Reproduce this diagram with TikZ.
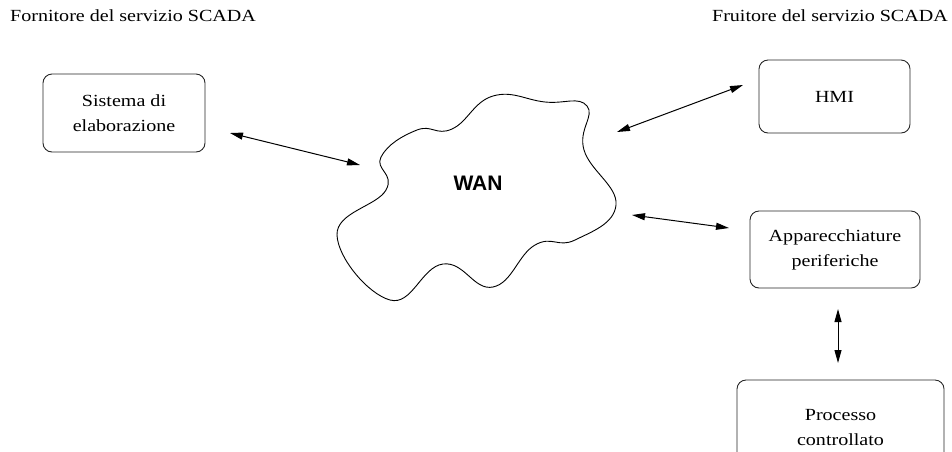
\documentclass[tikz,border=0pt]{standalone}
\usepackage{fontspec}
\setmainfont[FakeStretch=1.18]{Liberation Serif}
\newfontfamily\wanfont{Liberation Sans}
\usetikzlibrary{arrows.meta}
\begin{document}
\begin{tikzpicture}[x=1pt,y=-1pt,
  every node/.style={font=\fontsize{17}{25}\selectfont},
  boxnode/.style={draw=black!85, line width=0.9pt, rounded corners=9pt, align=center, inner sep=0pt},
  conn/.style={line width=1pt, {Triangle[length=13pt,width=7pt]}-{Triangle[length=13pt,width=7pt]}},
  hdr/.style={inner sep=0pt}
]
\useasboundingbox (0,0) rectangle (952,451);
\clip (0,0) rectangle (952,451);

\node[hdr, anchor=base west] (fornitore) at (10,21) {Fornitore del servizio SCADA};
\node[hdr, anchor=base east] (fruitore) at (948,21) {Fruitore del servizio SCADA};

\node[boxnode, minimum width=162pt, minimum height=78pt] (sys) at (124,113) {Sistema di\\elaborazione};
\node[boxnode, minimum width=151pt, minimum height=73pt] (hmi) at (834.5,96.5) {HMI};
\node[boxnode, minimum width=170pt, minimum height=77pt] (app) at (835,249.5) {Apparecchiature\\periferiche};
\node[boxnode, minimum width=207pt, minimum height=96pt] (proc) at (840.5,428) {Processo\\controllato};

\draw[line width=0.9pt] plot[smooth cycle, tension=0.75] coordinates {
 (493,96) (545,102) (587,106) (584,150) (616,205) (575,240) (535,245)
 (493,287) (443,264) (390,300) (337,235) (386,190) (381,157) (417,130) (452,129)};
\node[font=\wanfont\bfseries\fontsize{21}{25}\selectfont] (wan) at (478,183) {WAN};

\coordinate (sysend) at (230,133);
\coordinate (wanl) at (360,165);
\coordinate (hmiend) at (743,85);
\coordinate (wanr1) at (617,132);
\coordinate (wanr2) at (632,215);
\coordinate (append) at (729,228);
\coordinate (appbot) at (838,309);
\coordinate (proctop) at (838,363);

\draw[conn] (sysend) -- (wanl);
\draw[conn] (hmiend) -- (wanr1);
\draw[conn] (wanr2) -- (append);
\draw[conn] (appbot) -- (proctop);
\end{tikzpicture}
\end{document}
